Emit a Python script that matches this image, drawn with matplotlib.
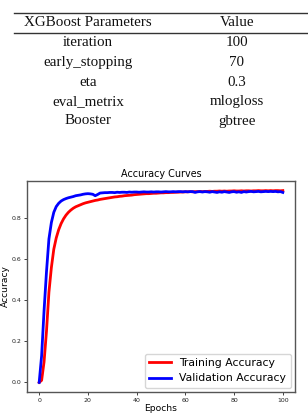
import matplotlib
matplotlib.use("Agg")
import matplotlib.pyplot as plt
from matplotlib.lines import Line2D

# ---------------- data ----------------
param_names = ["iteration", "early_stopping", "eta", "eval_metrix", "Booster"]
param_values = ["100", "70", "0.3", "mlogloss", "gbtree"]
table_headers = ["XGBoost Parameters", "Value"]

epochs = list(range(101))
train_acc = [
    0.00, 0.01, 0.10, 0.25, 0.44, 0.56, 0.65, 0.705, 0.745, 0.775,
    0.798, 0.816, 0.830, 0.841, 0.850, 0.857, 0.862, 0.867, 0.872, 0.876,
    0.879, 0.882, 0.885, 0.888, 0.890, 0.893, 0.895, 0.897, 0.899, 0.901,
    0.903, 0.905, 0.906, 0.908, 0.909, 0.911, 0.912, 0.913, 0.914, 0.916,
    0.917, 0.918, 0.919, 0.920, 0.921, 0.921, 0.922, 0.923, 0.923, 0.924,
    0.925, 0.925, 0.926, 0.926, 0.927, 0.927, 0.928, 0.928, 0.929, 0.929,
    0.930, 0.930, 0.931, 0.930, 0.931, 0.931, 0.932, 0.931, 0.932, 0.932,
    0.933, 0.932, 0.933, 0.933, 0.934, 0.933, 0.934, 0.933, 0.934, 0.934,
    0.935, 0.934, 0.934, 0.935, 0.934, 0.935, 0.935, 0.934, 0.935, 0.935,
    0.936, 0.935, 0.935, 0.936, 0.935, 0.936, 0.935, 0.936, 0.936, 0.935, 0.936,
]
val_acc = [
    0.00, 0.13, 0.35, 0.54, 0.70, 0.78, 0.83, 0.858, 0.874, 0.885,
    0.892, 0.897, 0.901, 0.904, 0.907, 0.911, 0.913, 0.915, 0.918, 0.920,
    0.921, 0.920, 0.918, 0.911, 0.917, 0.924, 0.925, 0.926, 0.926, 0.927,
    0.927, 0.926, 0.928, 0.927, 0.928, 0.928, 0.927, 0.929, 0.928, 0.929,
    0.929, 0.928, 0.929, 0.930, 0.929, 0.929, 0.930, 0.929, 0.930, 0.930,
    0.929, 0.930, 0.931, 0.930, 0.930, 0.931, 0.930, 0.931, 0.931, 0.930,
    0.931, 0.930, 0.931, 0.931, 0.927, 0.930, 0.931, 0.929, 0.931, 0.930,
    0.928, 0.931, 0.929, 0.927, 0.930, 0.928, 0.931, 0.929, 0.927, 0.930,
    0.931, 0.928, 0.930, 0.927, 0.931, 0.929, 0.931, 0.932, 0.930, 0.931,
    0.932, 0.930, 0.931, 0.932, 0.931, 0.932, 0.931, 0.932, 0.930, 0.931, 0.927,
]
x_ticks = [0, 20, 40, 60, 80, 100]
y_ticks = [0.0, 0.2, 0.4, 0.6, 0.8]

# ---------------- figure ----------------
W, H = 308, 416
fig = plt.figure(figsize=(W / 100, H / 100), dpi=100)

def fy(py):
    return 1 - py / H

def fx(px):
    return px / W

serif = ["Liberation Serif", "DejaVu Serif"]
tfs = 10.8
# rules
for py in (12.7, 32.7):
    fig.add_artist(Line2D([fx(14), fx(308)], [fy(py), fy(py)],
                          transform=fig.transFigure, color="#333333", lw=1.0))
col_x = [fx(88), fx(237)]
fig.text(col_x[0], fy(22), table_headers[0], ha="center", va="center",
         family=serif, fontsize=tfs, color="#111111")
fig.text(col_x[1], fy(22), table_headers[1], ha="center", va="center",
         family=serif, fontsize=tfs, color="#111111")
row_y = [43, 62.5, 82, 101.5, 121]
for name, val, py in zip(param_names, param_values, row_y):
    fig.text(col_x[0], fy(py), name, ha="center", va="center",
             family=serif, fontsize=tfs, color="#111111")
    fig.text(col_x[1], fy(py), val, ha="center", va="center",
             family=serif, fontsize=tfs, color="#111111")

# chart
ax = fig.add_axes([fx(27), fy(392), fx(295) - fx(27), fy(181) - fy(392)])
ax.plot(epochs, train_acc, color="red", lw=2.0, label="Training Accuracy")
ax.plot(epochs, val_acc, color="blue", lw=2.0, label="Validation Accuracy")
ax.set_xticks(x_ticks)
ax.set_yticks(y_ticks)
ax.set_xticklabels([str(t) for t in x_ticks])
ax.set_yticklabels([f"{t:.1f}" for t in y_ticks])
ax.tick_params(labelsize=4.5, length=2, width=0.6, pad=2, colors="#222222")
for s in ax.spines.values():
    s.set_color("#555555")
    s.set_linewidth(1.0)
ax.set_title("Accuracy Curves", fontsize=6.9, pad=3)
ax.set_xlabel("Epochs", fontsize=6.6, labelpad=1)
ax.set_ylabel("Accuracy", fontsize=6.6, labelpad=1.5)
ax.legend(loc="lower right", fontsize=7.8, handlelength=2.0,
          borderaxespad=0.4, framealpha=0.8)

fig.savefig("out.png", dpi=100)
